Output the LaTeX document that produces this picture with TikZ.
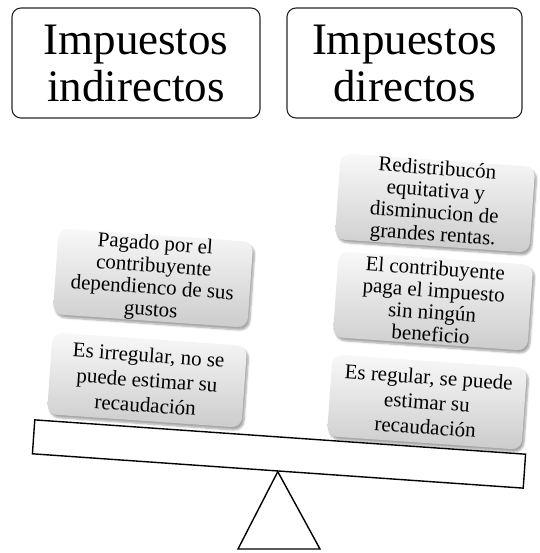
\documentclass[tikz,border=0pt]{standalone}
\usepackage{fontspec}
\setmainfont{Liberation Serif}
\usetikzlibrary{shadows.blur}
\begin{document}
\begin{tikzpicture}[x=1pt,y=-1pt,
  titlebox/.style={draw=black!85, line width=1.1pt, rounded corners=9pt,
    minimum height=110pt, align=center, inner sep=0pt,
    font=\fontsize{45}{47}\selectfont},
  card/.style={rounded corners=10pt, top color=gray!5, bottom color=gray!40,
    blur shadow={shadow xshift=2pt, shadow yshift=-3pt, shadow blur steps=6, shadow opacity=35},
    minimum width=195pt, minimum height=86pt, rotate=-4, align=center,
    inner sep=0pt, font=\fontsize{21}{22}\selectfont},
  card3/.style={card, font=\fontsize{21}{25}\selectfont, minimum height=82pt},
  plankbox/.style={draw=black, line width=1.4pt, fill=white, rotate=-4,
    minimum width=492pt, minimum height=34pt, inner sep=0pt},
  fulcrum/.style={draw=black, line width=1.4pt, line join=miter},
]
\useasboundingbox (0,0) rectangle (539,553);

\node[titlebox, minimum width=248pt] (ind) at (136,63) {Impuestos\\indirectos};
\node[titlebox, minimum width=235pt] (dir) at (404.5,63) {Impuestos\\directos};

\node[card] (pagado) at (153,278) {Pagado por el\\contribuyente\\dependienco de sus\\gustos};
\node[card3] (irreg) at (147,380) {Es irregular, no se\\puede estimar su\\recaudación};

\node[card] (redis) at (435,203) {Redistribucón\\equitativa y\\disminucion de\\grandes rentas.};
\node[card] (paga) at (433,301) {El contribuyente\\paga el impuesto\\sin ningún\\beneficio};
\node[card3] (reg) at (427,402) {Es regular, se puede\\estimar su\\recaudación};

\node[plankbox] (plank) at (279,454) {};
\coordinate (apex) at (plank.south);
\coordinate (bl) at (238,549);
\coordinate (br) at (320,549);
\draw[fulcrum] (apex) -- (br) -- (bl) -- cycle;
\end{tikzpicture}
\end{document}
